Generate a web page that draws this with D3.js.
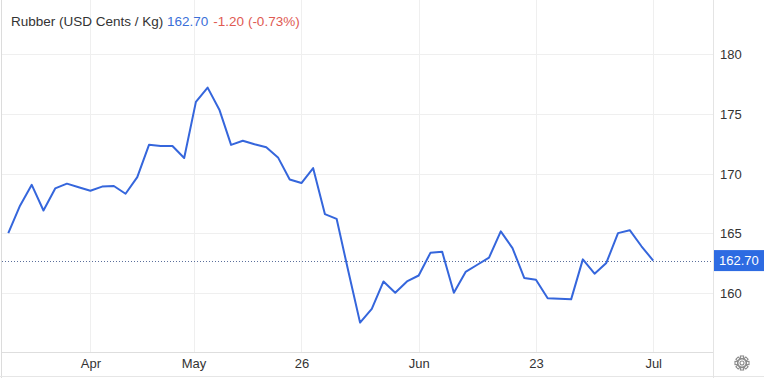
<!DOCTYPE html>
<html>
<head>
<meta charset="utf-8">
<script src="https://cdn.jsdelivr.net/npm/d3@7"></script>
<style>
  html, body { margin: 0; padding: 0; background: #fff; }
  svg { display: block; font-family: "Liberation Sans", Arial, sans-serif; }
  .grid line { stroke: #efefef; stroke-width: 1; }
  .tick-label { font-size: 13px; fill: #333; }
</style>
</head>
<body>
<svg id="chart" width="764" height="378"></svg>
<script>
/* ---------- data ---------- */
const prices = [
  165.0, 167.3, 169.05, 166.9, 168.75, 169.15, 168.85, 168.55, 168.9, 168.95,
  168.3, 169.7, 172.4, 172.3, 172.3, 171.3, 176.0, 177.2, 175.35, 172.4,
  172.75, 172.45, 172.2, 171.35, 169.5, 169.2, 170.45, 166.6, 166.2, 161.8,
  157.5, 158.65, 160.95, 160.0, 160.95, 161.45, 163.35, 163.45, 160.0, 161.75,
  162.35, 162.95, 165.15, 163.75, 161.25, 161.1, 159.55, 159.5, 159.45, 162.8,
  161.6, 162.5, 165.0, 165.25, 163.9, 162.7
];
const xTickIdx = [7, 15.8, 25, 35, 45, 55];
const xTickLabels = ["Apr", "May", "26", "Jun", "23", "Jul"];
const yTicks = [160, 165, 170, 175, 180];
const lastPrice = 162.70;
const change = -1.20;
const changePct = -0.73;

/* ---------- layout ---------- */
const W = 764, H = 378;
const plotLeft = 2, plotRight = 713, plotBottom = 352;

const svg = d3.select("#chart");

const x = d3.scaleLinear().domain([0, prices.length - 1]).range([8.3, 653.2]);
const y = d3.scaleLinear().domain([160, 180]).range([292.8, 54.2]);

/* frame */
svg.append("line").attr("x1", 1.5).attr("x2", 1.5).attr("y1", 0).attr("y2", H)
  .attr("stroke", "#dcdcdc");
svg.append("line").attr("x1", 0).attr("x2", W).attr("y1", H - 1.5).attr("y2", H - 1.5)
  .attr("stroke", "#e6e6e6");

/* grid */
const grid = svg.append("g").attr("class", "grid");
grid.selectAll(".hg").data(yTicks).join("line")
  .attr("x1", plotLeft).attr("x2", plotRight)
  .attr("y1", d => Math.round(y(d)) + 0.5).attr("y2", d => Math.round(y(d)) + 0.5);
grid.selectAll(".vg").data(xTickIdx).join("line")
  .attr("x1", d => Math.round(x(d)) + 0.5).attr("x2", d => Math.round(x(d)) + 0.5)
  .attr("y1", 0).attr("y2", plotBottom);

/* axis borders */
svg.append("line").attr("x1", plotLeft).attr("x2", plotRight)
  .attr("y1", plotBottom + 0.5).attr("y2", plotBottom + 0.5).attr("stroke", "#dedede");
svg.append("line").attr("x1", plotRight + 0.5).attr("x2", plotRight + 0.5)
  .attr("y1", 0).attr("y2", H).attr("stroke", "#e4e4e4");

/* y axis labels (right) */
const yAxis = d3.axisRight(y).tickValues(yTicks).tickSize(0).tickPadding(0);
const yg = svg.append("g").attr("transform", `translate(${plotRight + 7},0)`).call(yAxis);
yg.select(".domain").remove();
yg.selectAll("text").attr("class", "tick-label").attr("font-size", null)
  .attr("font-family", null).attr("fill", null).attr("dy", "0.35em");

/* x axis labels */
const xAxis = d3.axisBottom(x).tickValues(xTickIdx)
  .tickFormat((d, i) => xTickLabels[i]).tickSize(0).tickPadding(0);
const xg = svg.append("g").attr("transform", `translate(0,${plotBottom + 7})`).call(xAxis);
xg.select(".domain").remove();
xg.selectAll("text").attr("class", "tick-label").attr("font-size", null)
  .attr("font-family", null).attr("fill", null);

/* last price dotted line */
svg.append("line")
  .attr("x1", plotLeft).attr("x2", plotRight)
  .attr("y1", Math.round(y(lastPrice)) + 0.5).attr("y2", Math.round(y(lastPrice)) + 0.5)
  .attr("stroke", "#5b6f9c").attr("stroke-width", 1).attr("stroke-dasharray", "1,2");

/* price line */
const line = d3.line().x((d, i) => x(i)).y(d => y(d));
svg.append("path").datum(prices)
  .attr("fill", "none").attr("stroke", "#3566dc").attr("stroke-width", 2)
  .attr("stroke-linejoin", "round").attr("d", line);

/* last price tag */
const tagY = y(lastPrice);
svg.append("rect").attr("x", plotRight + 1).attr("y", tagY - 10.5)
  .attr("width", W - plotRight - 1).attr("height", 21).attr("fill", "#2d6be2");
svg.append("text").attr("x", plotRight + 6).attr("y", tagY).attr("dy", "0.36em")
  .attr("font-size", 13).attr("fill", "#fff").text(lastPrice.toFixed(2));

/* title */
const title = svg.append("text").attr("x", 11).attr("y", 26).attr("font-size", 13.5);
title.append("tspan").attr("fill", "#333").text("Rubber (USD Cents / Kg) ");
title.append("tspan").attr("fill", "#3b6fd8").text(lastPrice.toFixed(2));
title.append("tspan").attr("fill", "#e05a52").attr("dx", 5)
  .text(`${change.toFixed(2)} (${changePct.toFixed(2)}%)`);

/* settings gear */
const gear = svg.append("g").attr("transform", "translate(742,363)")
  .attr("fill", "none").attr("stroke", "#8a8a8a").attr("stroke-width", 1.1);
const teeth = d3.range(8);
gear.selectAll("rect").data(teeth).join("rect")
  .attr("x", -1.6).attr("y", -7).attr("width", 3.2).attr("height", 3)
  .attr("transform", d => `rotate(${d * 45})`);
gear.append("circle").attr("r", 4.6);
gear.append("circle").attr("r", 2);
</script>
</body>
</html>
